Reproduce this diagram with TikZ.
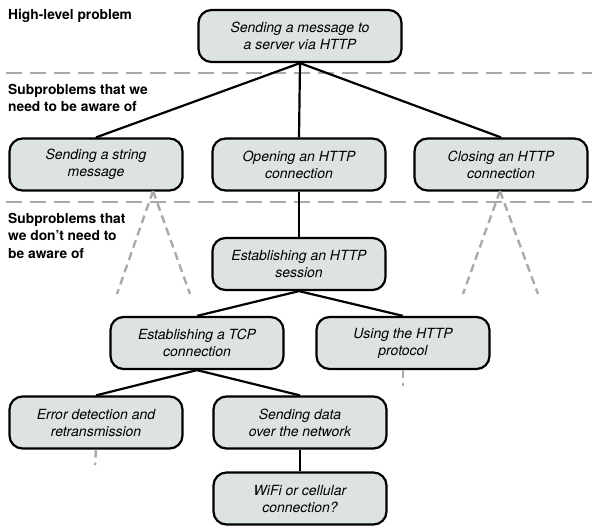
\documentclass[tikz,border=0pt]{standalone}
\usepackage{fontspec}
\setmainfont{TeX Gyre Heros}
\definecolor{boxfill}{RGB}{221,227,227}
\definecolor{dashgray}{RGB}{170,170,170}
\tikzset{
  probbox/.style={draw=black, line width=2.2pt, fill=boxfill, rounded corners=13pt,
    minimum width=173pt, minimum height=52pt, align=center, inner sep=2pt,
    font=\fontsize{14}{17}\selectfont\itshape},
  tier/.style={anchor=north west, align=left, inner sep=0pt,
    font=\fontsize{13.8}{17.5}\selectfont\bfseries},
  link/.style={line width=2.2pt, black},
  divider/.style={line width=2.8pt, dashgray, dash pattern=on 16pt off 8pt},
  hidden/.style={line width=2.4pt, dashgray, dash pattern=on 8pt off 5pt},
}
\begin{document}
\begin{tikzpicture}[x=1pt,y=-1pt]
\useasboundingbox (0,0) rectangle (596,530);
% dividers
\coordinate (d1a) at (6,73); \coordinate (d1b) at (592,73);
\coordinate (d2a) at (6,202); \coordinate (d2b) at (592,202);
\draw[divider] (d1a) -- (d1b);
\draw[divider] (d2a) -- (d2b);
% tier labels
\node[tier] (t1) at (8,9) {High-level problem};
\node[tier] (t2) at (8,84) {Subproblems that we\\need to be aware of};
\node[tier] (t3) at (8,213) {Subproblems that\\we don{\char"0027}t need to\\be aware of};
% nodes
\node[probbox, minimum width=203pt] (top) at (300,36) {Sending a message to\\a server via HTTP};
\node[probbox] (str) at (96,164.5) {Sending a string\\message};
\node[probbox] (open) at (299,164.5) {Opening an HTTP\\connection};
\node[probbox] (close) at (501,164.5) {Closing an HTTP\\connection};
\node[probbox] (sess) at (299,264) {Establishing an HTTP\\session};
\node[probbox] (tcp) at (197,343) {Establishing a TCP\\connection};
\node[probbox] (proto) at (403,343) {Using the HTTP\\protocol};
\node[probbox] (err) at (96,422.5) {Error detection and\\retransmission};
\node[probbox] (data) at (300,422.5) {Sending data\\over the network};
\node[probbox] (wifi) at (300,498.5) {WiFi or cellular\\connection?};
% hidden subproblem hints
\coordinate (s1) at (117,294); \coordinate (s2) at (190,294);
\coordinate (c1) at (463,294); \coordinate (c2) at (538,294);
\coordinate (p1) at (403,386);
\coordinate (e1) at (95,465);
\coordinate (sa) at (153,191); \coordinate (ca) at (500,191);
\draw[hidden] (sa) -- (s1);
\draw[hidden] (sa) -- (s2);
\draw[hidden] (ca) -- (c1);
\draw[hidden] (ca) -- (c2);
\draw[hidden] (proto.south) -- (p1);
\draw[hidden] (err.south) -- (e1);
% links
\draw[link] (top.south) -- (str.north);
\draw[link] (top.south) -- (open.north);
\draw[link] (top.south) -- (close.north);
\draw[link] (open.south) -- (sess.north);
\draw[link] (sess.south) -- (tcp.north);
\draw[link] (sess.south) -- (proto.north);
\draw[link] (tcp.south) -- (err.north);
\draw[link] (tcp.south) -- (data.north);
\draw[link] (data.south) -- (wifi.north);
\end{tikzpicture}
\end{document}
